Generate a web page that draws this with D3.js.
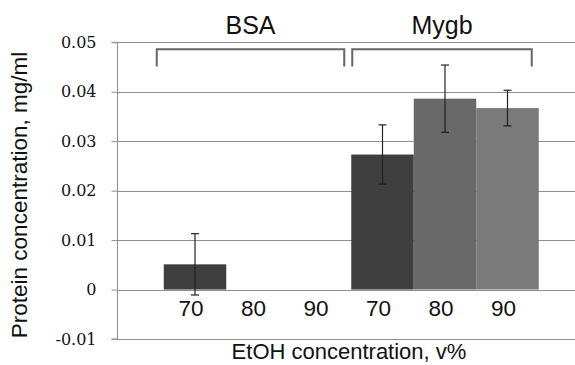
<!DOCTYPE html>
<html>
<head>
<meta charset="utf-8">
<script src="https://cdn.jsdelivr.net/npm/d3@7"></script>
<style>
  body { margin: 0; background: #fff; }
  svg { display: block; }
</style>
</head>
<body>
<svg id="chart" width="575" height="365"></svg>
<script>
// categories: protein group + EtOH concentration
const groups = ['BSA', 'Mygb'];
const concentrations = ['70', '80', '90'];
const keys = ['BSA-70', 'BSA-80', 'BSA-90', 'Mygb-70', 'Mygb-80', 'Mygb-90'];
const values = [0.0051, 0, 0, 0.0273, 0.0386, 0.0367];
const errors = [0.0062, 0, 0, 0.0060, 0.0068, 0.0036];
const yTicks = [-0.01, 0, 0.01, 0.02, 0.03, 0.04, 0.05];
const barColors = { '70': '#3f3f3f', '80': '#696969', '90': '#7a7a7a' };

const svg = d3.select('#chart');

const plotLeft = 117, plotRight = 575;
const y = d3.scaleLinear().domain([-0.01, 0.05]).range([339, 42.3]);
const x = d3.scaleBand().domain(keys).range([163.75, 538.75]).paddingInner(0).paddingOuter(0);

// gridlines
svg.append('g')
  .selectAll('line')
  .data(yTicks)
  .join('line')
  .attr('x1', plotLeft)
  .attr('x2', plotRight)
  .attr('y1', d => Math.round(y(d)) + 0.5)
  .attr('y2', d => Math.round(y(d)) + 0.5)
  .attr('stroke', '#8f8f8f')
  .attr('stroke-width', 1);

// y axis
const yAxis = svg.append('g')
  .attr('transform', `translate(${plotLeft + 0.5},0)`)
  .call(d3.axisLeft(y).tickValues(yTicks).tickSize(6).tickPadding(15)
    .tickFormat(d => d === 0 ? '0' : d3.format('.2f')(d).replace('\u2212', '-')))
  .attr('font-family', '"DejaVu Serif", "Liberation Serif", serif')
  .attr('font-size', 16);
yAxis.select('.domain').attr('stroke', '#8f8f8f').attr('d', `M-6,${y(0.05)}H0V${y(-0.01)}H-6`);
yAxis.selectAll('.tick line').attr('stroke', '#8f8f8f');
yAxis.selectAll('.tick text').attr('fill', '#111');

// bars
svg.append('g')
  .selectAll('rect')
  .data(keys)
  .join('rect')
  .attr('x', d => x(d))
  .attr('width', x.bandwidth())
  .attr('y', (d, i) => y(Math.max(0, values[i])))
  .attr('height', (d, i) => Math.abs(y(values[i]) - y(0)))
  .attr('fill', d => barColors[d.split('-')[1]]);

// error bars
const errG = svg.append('g').attr('stroke', '#222').attr('stroke-width', 1.2);
keys.forEach((k, i) => {
  if (!errors[i]) return;
  const cx = x(k) + x.bandwidth() / 2;
  const top = y(values[i] + errors[i]);
  const bot = y(values[i] - errors[i]);
  errG.append('line').attr('x1', cx).attr('x2', cx).attr('y1', top).attr('y2', bot);
  errG.append('line').attr('x1', cx - 4).attr('x2', cx + 4).attr('y1', top).attr('y2', top);
  errG.append('line').attr('x1', cx - 4).attr('x2', cx + 4).attr('y1', bot).attr('y2', bot);
});

// category (concentration) labels
svg.append('g')
  .selectAll('text')
  .data(keys)
  .join('text')
  .attr('x', d => x(d) + x.bandwidth() / 2 - 4)
  .attr('y', 316)
  .attr('text-anchor', 'middle')
  .style('font-family', '"Liberation Sans", Arial, sans-serif')
  .style('font-size', '22.5px')
  .attr('fill', '#111')
  .text(d => d.split('-')[1]);

// group brackets + labels
const bracketTop = 0.0486, bracketLeg = 0.0451;
groups.forEach(g => {
  const first = x(`${g}-${concentrations[0]}`);
  const last = x(`${g}-${concentrations[concentrations.length - 1]}`) + x.bandwidth();
  const x1 = g === 'BSA' ? first - 7 : first + 1;
  const x2 = last - 7;
  svg.append('path')
    .attr('d', `M${x1},${y(bracketLeg)}V${y(bracketTop)}H${x2}V${y(bracketLeg)}`)
    .attr('fill', 'none')
    .attr('stroke', '#666')
    .attr('stroke-width', 2);
  svg.append('text')
    .attr('x', (x1 + x2) / 2)
    .attr('y', 34)
    .attr('text-anchor', 'middle')
    .style('font-family', '"Liberation Sans", Arial, sans-serif')
    .style('font-size', '25px')
    .attr('fill', '#111')
    .text(g);
});

// axis titles
svg.append('text')
  .attr('x', 349)
  .attr('y', 359)
  .attr('text-anchor', 'middle')
  .style('font-family', '"Liberation Sans", Arial, sans-serif')
  .style('font-size', '22px')
  .attr('fill', '#111')
  .text('EtOH concentration, v%');

svg.append('text')
  .attr('transform', 'translate(27,195) rotate(-90)')
  .attr('text-anchor', 'middle')
  .style('font-family', '"Liberation Sans", Arial, sans-serif')
  .style('font-size', '22.5px')
  .attr('fill', '#111')
  .text('Protein concentration, mg/ml');
</script>
</body>
</html>
